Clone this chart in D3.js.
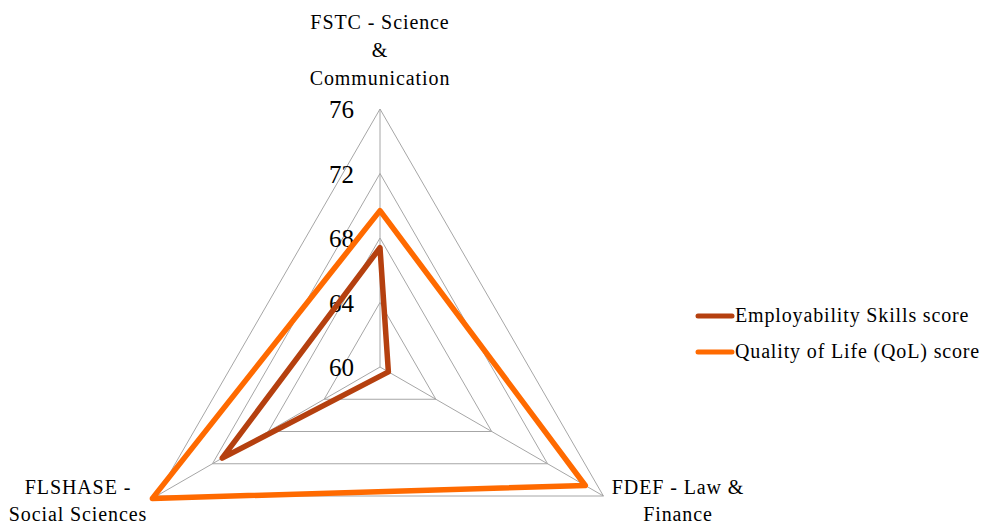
<!DOCTYPE html>
<html>
<head>
<meta charset="utf-8">
<script src="https://cdn.jsdelivr.net/npm/d3@7"></script>
<style>
  html, body { margin: 0; padding: 0; background: #fff; }
  svg { display: block; }
  text { font-family: "Liberation Serif", "Times New Roman", serif; fill: #000; }
</style>
</head>
<body>
<svg id="chart" width="994" height="526"></svg>
<script>
const categories = ["FSTC - Science & Communication", "FDEF - Law & Finance", "FLSHASE - Social Sciences"];
const categoryLines = [["FSTC - Science", "&", "Communication"], ["FDEF - Law &", "Finance"], ["FLSHASE -", "Social Sciences"]];
const seriesNames = ["Employability Skills score", "Quality of Life (QoL) score"];
const employability = [67.4, 60.6, 71.3];
const qol = [69.7, 74.7, 76.3];
const tickValues = [60, 64, 68, 72, 76];
const colors = ["#b5400f", "#ff6a00"];

const svg = d3.select("#chart");
const cx = 380, cy = 367, R = 258;
const r = d3.scaleLinear().domain([60, 76]).range([0, R]);
const angle = d3.scaleOrdinal().domain(categories).range([-90, 30, 150].map(a => a * Math.PI / 180));
const pt = (cat, v) => [cx + r(v) * Math.cos(angle(cat)), cy + r(v) * Math.sin(angle(cat))];

const grid = svg.append("g");
tickValues.slice(1).forEach(t => {
  grid.append("path")
    .attr("d", d3.line()(categories.map(c => pt(c, t))) + "Z")
    .attr("fill", "none").attr("stroke", "#a6a6a6").attr("stroke-width", 1);
});
categories.forEach(c => {
  const p = pt(c, 76);
  grid.append("line").attr("x1", cx).attr("y1", cy).attr("x2", p[0]).attr("y2", p[1])
    .attr("stroke", "#a6a6a6").attr("stroke-width", 1);
});

svg.append("g").selectAll("text").data(tickValues).join("text")
  .attr("x", cx - 26).attr("y", d => cy - r(d) + 9)
  .attr("text-anchor", "end")
  .style("font-size", "25px")
  .text(d => d);

const lineGen = d3.line().curve(d3.curveLinearClosed);
[employability, qol].forEach((vals, i) => {
  svg.append("path")
    .attr("d", lineGen(categories.map((c, j) => pt(c, vals[j]))))
    .attr("fill", "none").attr("stroke", colors[i]).attr("stroke-width", 5.5)
    .attr("stroke-linejoin", "round");
});

const lab = svg.append("g").style("font-size", "20px").style("letter-spacing", "0.9px");
categoryLines[0].forEach((t, k) => {
  lab.append("text").attr("x", cx).attr("y", 29 + k * 28).attr("text-anchor", "middle").text(t);
});
categoryLines[1].forEach((t, k) => {
  lab.append("text").attr("x", 678).attr("y", 494 + k * 27).attr("text-anchor", "middle").text(t);
});
categoryLines[2].forEach((t, k) => {
  lab.append("text").attr("x", 78).attr("y", 494 + k * 27).attr("text-anchor", "middle").text(t);
});

const leg = svg.append("g");
seriesNames.forEach((n, i) => {
  const y = 316 + i * 36;
  leg.append("line").attr("x1", 698).attr("x2", 732).attr("y1", y).attr("y2", y)
    .attr("stroke", colors[i]).attr("stroke-width", 5).attr("stroke-linecap", "round");
  leg.append("text").attr("x", 735).attr("y", y + 6).style("font-size", "20px")
    .style("letter-spacing", "0.85px").text(n);
});
</script>
</body>
</html>
